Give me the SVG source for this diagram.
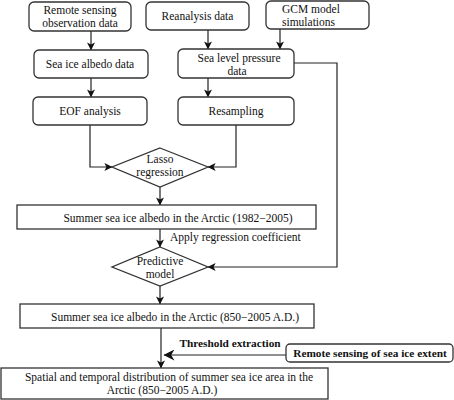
<svg xmlns="http://www.w3.org/2000/svg" width="454" height="400" viewBox="0 0 454 400">
<style>
.b{fill:#fff;stroke:#333;stroke-width:1.3}
.t{font-family:"Liberation Serif","Times New Roman",serif;font-size:11.5px;fill:#111;text-anchor:middle}
.tl{text-anchor:start}
.bd{font-weight:bold;font-size:11.3px}
.c{fill:none;stroke:#222;stroke-width:1.2}
</style>
<defs>
<marker id="a" viewBox="0 0 10 10" refX="9.5" refY="5" markerWidth="8" markerHeight="8" markerUnits="userSpaceOnUse" orient="auto">
<path d="M0,0 L10,5 L0,10 L2.5,5 Z" fill="#111"/>
</marker>
<marker id="a2" viewBox="0 0 10 10" refX="9.5" refY="5" markerWidth="13" markerHeight="11" markerUnits="userSpaceOnUse" orient="auto">
<path d="M0,0 L10,5 L0,10 L3,5 Z" fill="#111"/>
</marker>
</defs>
<rect width="454" height="400" fill="#fff"/>
<g id="connectors">
<line class="c" x1="91" y1="31" x2="91" y2="50" marker-end="url(#a)"/>
<line class="c" x1="208" y1="30" x2="208" y2="49" marker-end="url(#a)"/>
<line class="c" x1="280" y1="29" x2="280" y2="49" marker-end="url(#a)"/>
<line class="c" x1="91" y1="78" x2="91" y2="97" marker-end="url(#a)"/>
<line class="c" x1="208" y1="78" x2="208" y2="97" marker-end="url(#a)"/>
<polyline class="c" points="90,125 90,167 112,167" marker-end="url(#a)"/>
<polyline class="c" points="236,125 236,167 208,167" marker-end="url(#a)"/>
<polyline class="c" points="294,63 337,63 337,267 208,267" marker-end="url(#a)"/>
<line class="c" x1="160" y1="187" x2="160" y2="205" marker-end="url(#a)"/>
<line class="c" x1="160" y1="229" x2="160" y2="247" marker-end="url(#a)"/>
<line class="c" x1="160" y1="286" x2="160" y2="304" marker-end="url(#a)"/>
<line class="c" x1="161" y1="328" x2="161" y2="368" marker-end="url(#a)"/>
<line class="c" x1="286" y1="355" x2="164" y2="355" marker-end="url(#a2)"/>
<text class="t tl" x="170" y="241">Apply regression coefficient</text>
<text class="t bd" x="230" y="347">Threshold extraction</text>
</g>
<g id="n1"><rect class="b" x="29" y="2" width="102" height="29" rx="5"/><text class="t" x="80" y="14">Remote sensing</text><text class="t" x="80" y="27">observation data</text></g>
<g id="n2"><rect class="b" x="146" y="2" width="103" height="28" rx="5"/><text class="t" x="197.5" y="20">Reanalysis data</text></g>
<g id="n3"><rect class="b" x="266" y="1" width="103" height="28" rx="5"/><text class="t tl" x="282" y="13">GCM model</text><text class="t tl" x="282" y="26">simulations</text></g>
<g id="n4"><rect class="b" x="34" y="50" width="114" height="28" rx="5"/><text class="t" x="90" y="68">Sea ice albedo data</text></g>
<g id="n5"><rect class="b" x="178" y="49" width="116" height="29" rx="5"/><text class="t" x="239" y="62">Sea level pressure</text><text class="t" x="237" y="75">data</text></g>
<g id="n6"><rect class="b" x="33" y="97" width="114" height="28" rx="5"/><text class="t" x="90" y="115">EOF analysis</text></g>
<g id="n7"><rect class="b" x="178" y="97" width="116" height="28" rx="5"/><text class="t" x="236" y="115">Resampling</text></g>
<g id="n8"><polygon class="b" points="160,148 208,167 160,187 112,167"/><text class="t" x="160" y="163">Lasso</text><text class="t" x="160" y="176">regression</text></g>
<g id="n9"><rect class="b" x="17" y="205" width="299" height="24"/><text class="t" x="178" y="222">Summer sea ice albedo in the Arctic (1982−2005)</text></g>
<g id="n10"><polygon class="b" points="160,247 208,267 160,286 112,267"/><text class="t" x="160" y="265">Predictive</text><text class="t" x="160" y="278">model</text></g>
<g id="n11"><rect class="b" x="20" y="304" width="294" height="24"/><text class="t" x="175" y="321">Summer sea ice albedo in the Arctic (850−2005 A.D.)</text></g>
<g id="n12"><rect class="b" x="286" y="344" width="167" height="18" rx="4"/><text class="t bd" x="370" y="357">Remote sensing of sea ice extent</text></g>
<g id="n13"><rect class="b" x="1" y="368" width="327" height="31"/><text class="t" x="169" y="381">Spatial and temporal distribution of summer sea ice area in the</text><text class="t" x="162" y="394">Arctic (850−2005 A.D.)</text></g>
</svg>
